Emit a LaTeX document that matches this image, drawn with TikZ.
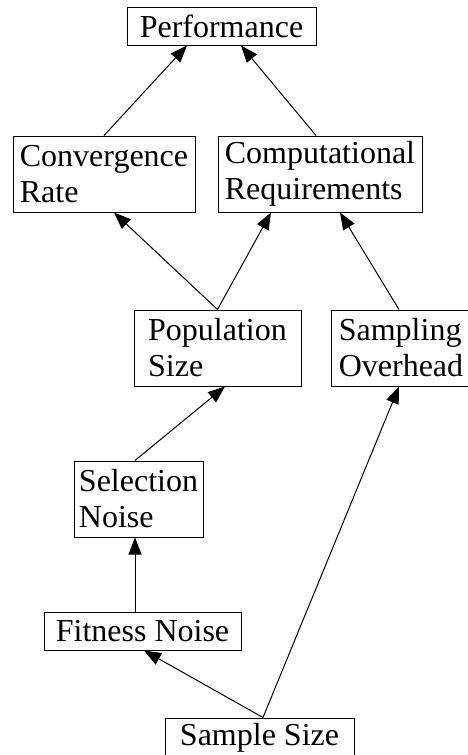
\documentclass[tikz,border=0pt]{standalone}
\usepackage{fontspec}
\setmainfont{Liberation Serif}
\usetikzlibrary{arrows.meta,calc}
\begin{document}
\begin{tikzpicture}[x=1pt,y=-1pt,
  box/.style={draw,line width=1pt,rectangle,inner sep=0pt,align=left,
    font=\fontsize{32}{36}\selectfont},
  link/.style={line width=1pt,-{Triangle[length=17pt,width=13pt]}}]
\useasboundingbox (0,0) rectangle (467,755);
\node[box,minimum width=189pt,minimum height=38pt] (perf) at (221.5,26) {Performance};
\node[box,minimum width=182pt,minimum height=76pt] (conv) at (104,174) {Convergence\\Rate};
\node[box,minimum width=204pt,minimum height=76pt] (comp) at (320,174) {Computational\\Requirements};
\node[box,minimum width=167pt,minimum height=76pt] (pop) at (217.5,348) {Population\\Size};
\node[box,minimum width=140pt,minimum height=76pt] (samp) at (401,348) {Sampling\\Overhead};
\node[box,minimum width=129pt,minimum height=76pt] (sel) at (138.5,499) {Selection\\Noise};
\node[box,minimum width=197pt,minimum height=38pt] (fit) at (142.5,631) {Fitness Noise};
\node[box,minimum width=189pt,minimum height=40pt] (size) at (259.5,738) {Sample Size};
\draw[link] (conv.north) -- ([xshift=-34.5pt]perf.south);
\draw[link] ([xshift=-4pt]comp.north) -- ([xshift=19.5pt]perf.south);
\draw[link] (pop.north) -- ([xshift=10pt]conv.south);
\draw[link] (pop.north) -- ([xshift=-49pt]comp.south);
\draw[link] ([xshift=-2pt]samp.north) -- ([xshift=20pt]comp.south);
\draw[link] ([xshift=-3.5pt]sel.north) -- ([xshift=7.5pt]pop.south);
\draw[link] ([xshift=-7.5pt]fit.north) -- ([xshift=-3.5pt]sel.south);
\draw[link] ([xshift=3.5pt]size.north) -- ([xshift=1.5pt]fit.south);
\draw[link] ([xshift=3.5pt]size.north) -- ([xshift=-2pt]samp.south);
\end{tikzpicture}
\end{document}
